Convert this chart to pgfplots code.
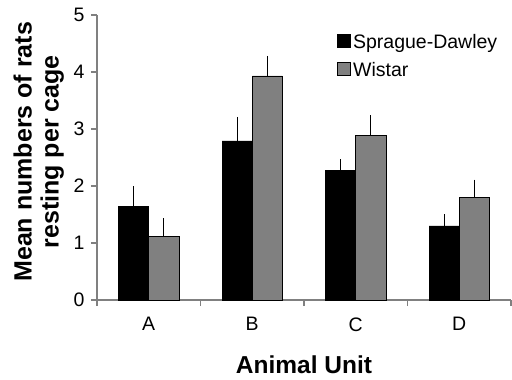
\documentclass[border=0pt]{standalone}
\usepackage{pgfplots}
\pgfplotsset{compat=1.18}
\usepackage{fontspec}
\setmainfont{Liberation Sans}
\definecolor{bargray}{HTML}{808080}
\begin{document}
\begin{tikzpicture}
\path[use as bounding box] (-97bp,-80bp) rectangle (415bp,300bp);
\begin{axis}[
  at={(0,0)}, anchor=south west,
  scale only axis, width=414bp, height=285bp,
  xmin=-0.5, xmax=3.5, ymin=0, ymax=5,
  axis x line*=bottom, axis y line*=left,
  axis line style={draw=bargray, line width=1.2bp, -},
  xtick={-0.5,0.5,1.5,2.5,3.5}, x tick label as interval,
  xticklabels={A,B,C,D},
  ytick={0,1,2,3,4,5},
  tick align=outside, major tick length=6bp,
  tick style={draw=bargray, line width=1.2bp},
  xticklabel style={font=\fontsize{19.5bp}{22bp}\selectfont, yshift=-8bp},
  yticklabel style={font=\fontsize{19.5bp}{22bp}\selectfont, xshift=-3bp},
  /pgf/number format/assume math mode=true,
  xlabel={Animal Unit},
  xlabel style={at={(axis description cs:0.5,0)}, anchor=base, yshift=-73bp, font=\fontsize{24.5bp}{28bp}\selectfont\bfseries},
  ylabel={Mean numbers of rats\\resting per cage},
  ylabel style={at={(axis description cs:-0.0797,0.52)}, anchor=south, inner sep=0pt, align=center, font=\fontsize{25bp}{27bp}\selectfont\bfseries},
  legend style={at={(axis description cs:0.58,0.94)}, anchor=north west, draw=none, fill=none,
    font=\fontsize{19.5bp}{22bp}\selectfont, inner sep=0pt, row sep=8bp,
    nodes={inner sep=2bp}},
  legend cell align=left,
  legend image code/.code={\draw[#1, line width=0.8bp] (0bp,-5.5bp) rectangle (13bp,7.5bp);},
  bar width=0.292,
]
\addplot[ybar, bar shift=0, fill=black, draw=black, line width=0.8bp,
  error bars/.cd, y dir=plus, y explicit,
  error bar style={black, line width=1.2bp},
  error mark options={black, mark size=3.5bp, line width=1.2bp}]
  coordinates {(-0.146,1.64) +- (0,0.29) (0.854,2.79) +- (0,0.36) (1.854,2.28) +- (0,0.13) (2.854,1.30) +- (0,0.14)};
\addlegendentry{Sprague-Dawley}
\addplot[ybar, bar shift=0, fill=bargray, draw=black, line width=0.8bp,
  error bars/.cd, y dir=plus, y explicit,
  error bar style={black, line width=1.2bp},
  error mark options={black, mark size=3.5bp, line width=1.2bp}]
  coordinates {(0.146,1.11) +- (0,0.26) (1.146,3.93) +- (0,0.29) (2.146,2.88) +- (0,0.30) (3.146,1.80) +- (0,0.25)};
\addlegendentry{Wistar}
\end{axis}
\end{tikzpicture}
\end{document}
